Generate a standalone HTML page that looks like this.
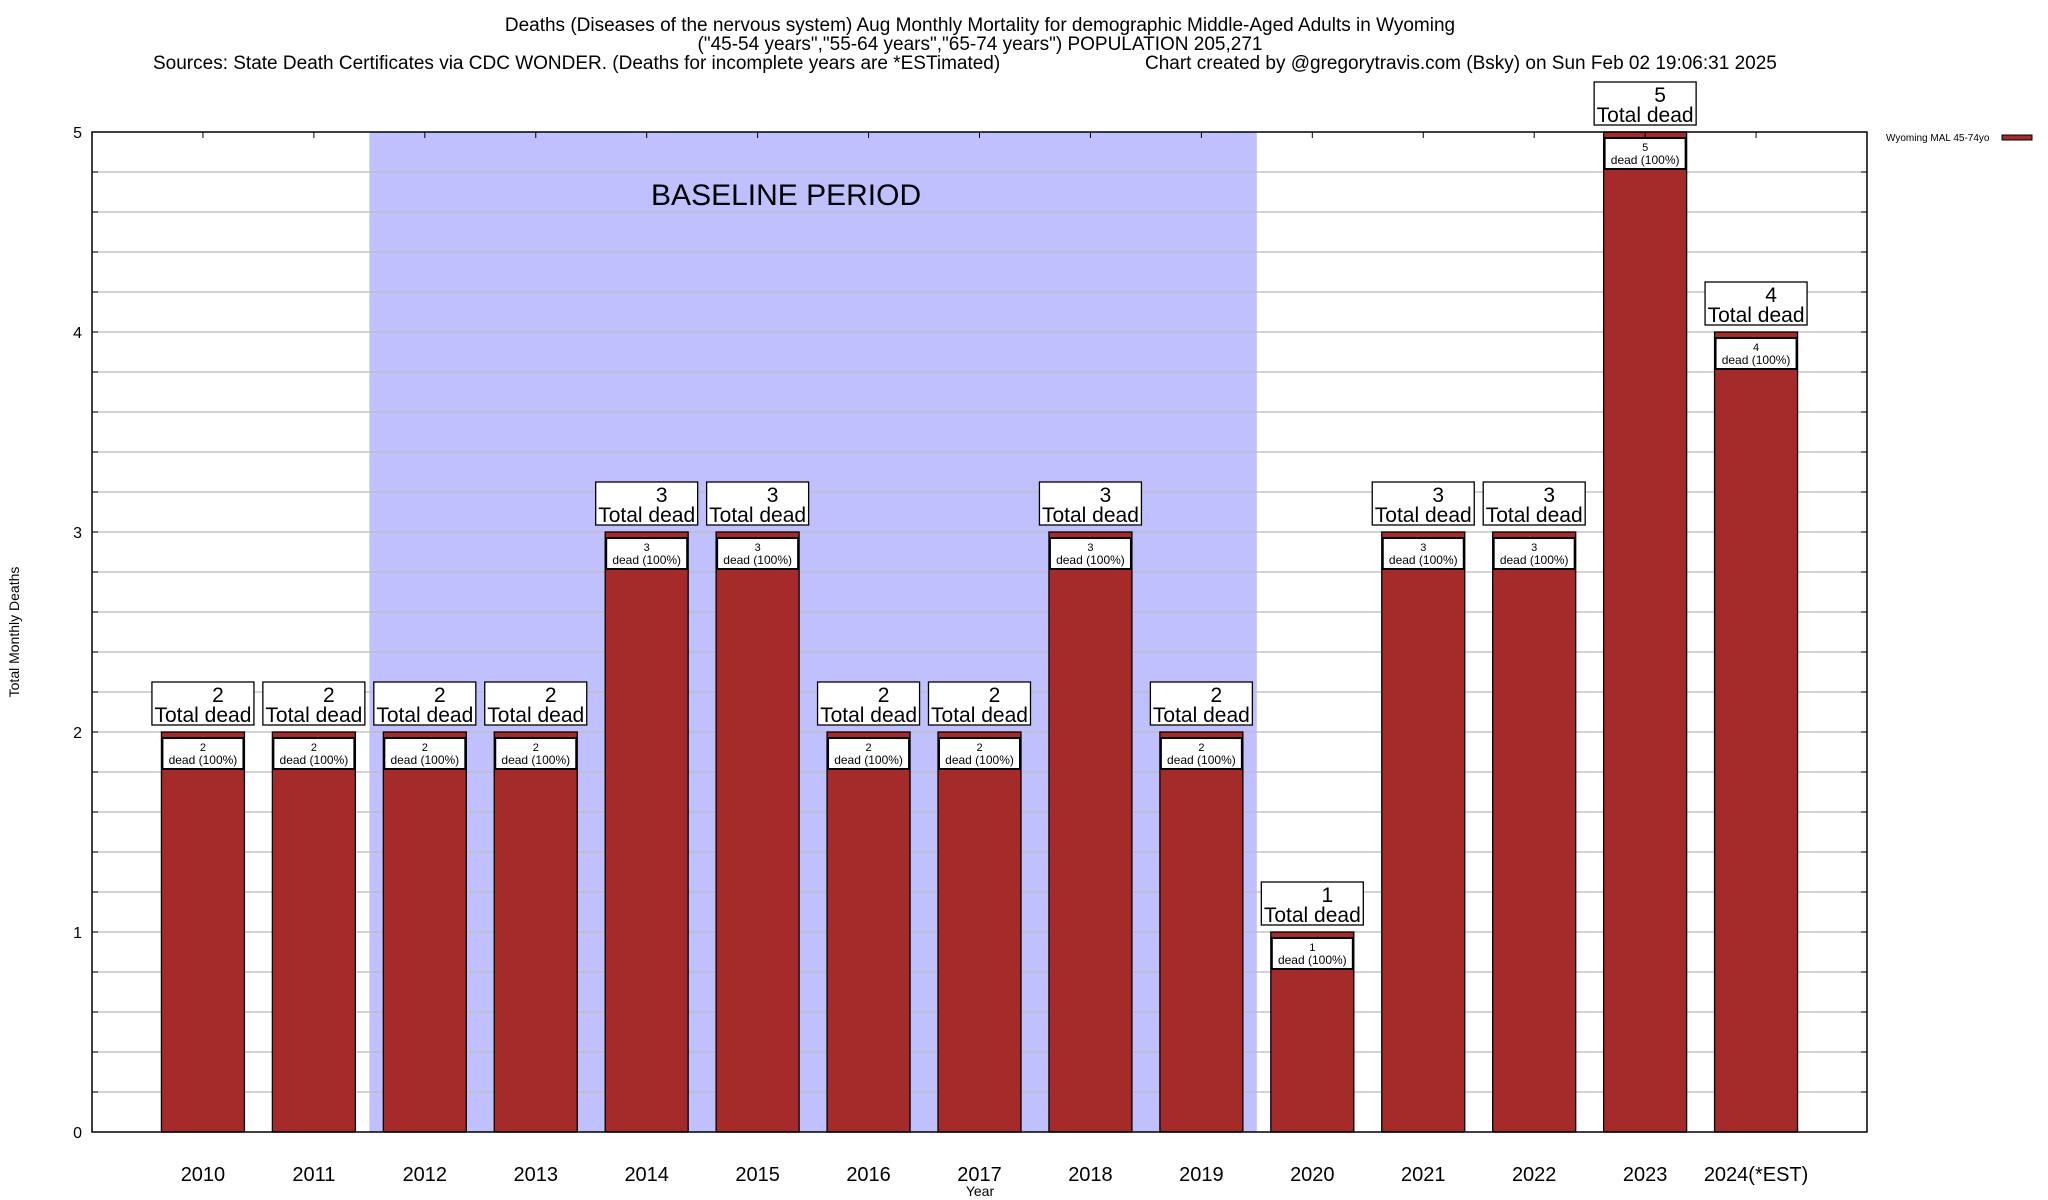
<!DOCTYPE html>
<html><head><meta charset="utf-8"><style>
html,body{margin:0;padding:0;background:#fff;}
svg{display:block;font-family:"Liberation Sans",Arial,sans-serif;}
</style></head><body>
<svg id="chart" width="2048" height="1200" viewBox="0 0 2048 1200" xmlns="http://www.w3.org/2000/svg">
<rect x="0" y="0" width="2048" height="1200" fill="#fff"/>
<g font-size="19" fill="#000">
<text x="980" y="31" text-anchor="middle">Deaths (Diseases of the nervous system) Aug Monthly Mortality for demographic Middle-Aged Adults in Wyoming</text>
<text x="980" y="50" text-anchor="middle">("45-54 years","55-64 years","65-74 years") POPULATION 205,271</text>
<text x="153" y="69">Sources: State Death Certificates via CDC WONDER. (Deaths for incomplete years are *ESTimated)</text>
<text x="1145" y="69">Chart created by @gregorytravis.com (Bsky) on Sun Feb 02 19:06:31 2025</text>
</g>
<g id="plot"></g>
</svg>
<script>
const categories = ["2010","2011","2012","2013","2014","2015","2016","2017","2018","2019","2020","2021","2022","2023","2024(*EST)"];
const deaths = [2,2,2,2,3,3,2,2,3,2,1,3,3,5,4];
const yTicks = [0,1,2,3,4,5];
const baselineStart = 2; // index of 2012
const baselineEnd = 9;   // index of 2019

const NS = "http://www.w3.org/2000/svg";
const L = 92, R = 1867, T = 132, B = 1132, yMax = 5;
const slot = (R - L) / (categories.length + 1);
const xPos = i => L + (i + 1) * slot;
const yPos = v => B - (v / yMax) * (B - T);
const g = document.getElementById("plot");
function mk(tag, attrs, parent) {
  const e = document.createElementNS(NS, tag);
  for (const k in attrs) e.setAttribute(k, attrs[k]);
  (parent || g).appendChild(e);
  return e;
}

// baseline shading
const shade = mk("rect", {x: xPos(baselineStart) - slot/2, y: T, width: (baselineEnd - baselineStart + 1) * slot, height: B - T, fill: "#c0c0ff"});


const bl = mk("text", {x: (xPos(baselineStart) + xPos(baselineEnd)) / 2 - 27, y: 205, "text-anchor": "middle", "font-size": "30", fill: "#000"});
bl.textContent = "BASELINE PERIOD";



// gridlines
for (let v = 0.2; v < yMax - 0.001; v += 0.2) {
  const gl = mk("line", {x1: L, x2: R, y1: yPos(v), y2: yPos(v), stroke: "#bbb", "stroke-width": 1.3});
  
  
  mk("line", {x1: L, x2: L + 6, y1: yPos(v), y2: yPos(v), stroke: "#000", "stroke-width": 1});
  mk("line", {x1: R - 6, x2: R, y1: yPos(v), y2: yPos(v), stroke: "#000", "stroke-width": 1});
}
// y tick labels
yTicks.forEach(t => {
  const tl = mk("text", {x: 82, y: yPos(t) + 6, "text-anchor": "end", "font-size": "16", fill: "#000"});
  tl.textContent = t;
  
  
});

// bars
categories.forEach((c, i) => {
  const v = deaths[i];
  const cx = xPos(i), bw = 83, x0 = cx - bw/2, yt = yPos(v);
  const bar = mk("rect", {x: x0, y: yt, width: bw, height: B - yt, fill: "#a52a2a", stroke: "#000", "stroke-width": 1.3});
  
  
  const ib = mk("rect", {x: x0 + 1, y: yt + 6, width: bw - 2, height: 31, fill: "#fff", stroke: "#000", "stroke-width": 2});
  
  
  const t1 = mk("text", {x: cx, y: yt + 19, "text-anchor": "middle", "font-size": "11", fill: "#000"});
  t1.textContent = v;
  
  
  const t2 = mk("text", {x: cx, y: yt + 32, "text-anchor": "middle", "font-size": "12", fill: "#000"});
  t2.textContent = "dead (100%)";
  
  
  const ob = mk("rect", {x: cx - 51, y: yt - 50, width: 102, height: 43, fill: "#fff", stroke: "#000", "stroke-width": 1.3});
  
  
  const o1 = mk("text", {x: cx + 15, y: yt - 30, "text-anchor": "middle", "font-size": "21", fill: "#000"});
  o1.textContent = v;
  
  
  const o2 = mk("text", {x: cx, y: yt - 10, "text-anchor": "middle", "font-size": "21", fill: "#000"});
  o2.textContent = "Total dead";
  
  
  // x tick label
  const xl = mk("text", {x: cx, y: 1181, "text-anchor": "middle", "font-size": "20", fill: "#000"});
  xl.textContent = c;
  
  
  mk("line", {x1: cx, x2: cx, y1: T, y2: T + 6, stroke: "#000", "stroke-width": 1});
});

// frame
const fr = mk("rect", {x: L, y: T, width: R - L, height: B - T, fill: "none", stroke: "#000", "stroke-width": 1.5});



// axis titles
const yt = mk("text", {x: 0, y: 0, transform: "translate(19,632) rotate(-90)", "text-anchor": "middle", "font-size": "14", fill: "#000"});
yt.textContent = "Total Monthly Deaths";


const xt = mk("text", {x: 980, y: 1196, "text-anchor": "middle", "font-size": "14", fill: "#000"});
xt.textContent = "Year";



// legend
const lg = mk("text", {x: 1886, y: 141, "font-size": "10", fill: "#000"});
lg.textContent = "Wyoming MAL 45-74yo";


const ls = mk("rect", {x: 2002, y: 135, width: 30, height: 5, fill: "#a52a2a", stroke: "#000", "stroke-width": 1});


</script>
</body></html>
